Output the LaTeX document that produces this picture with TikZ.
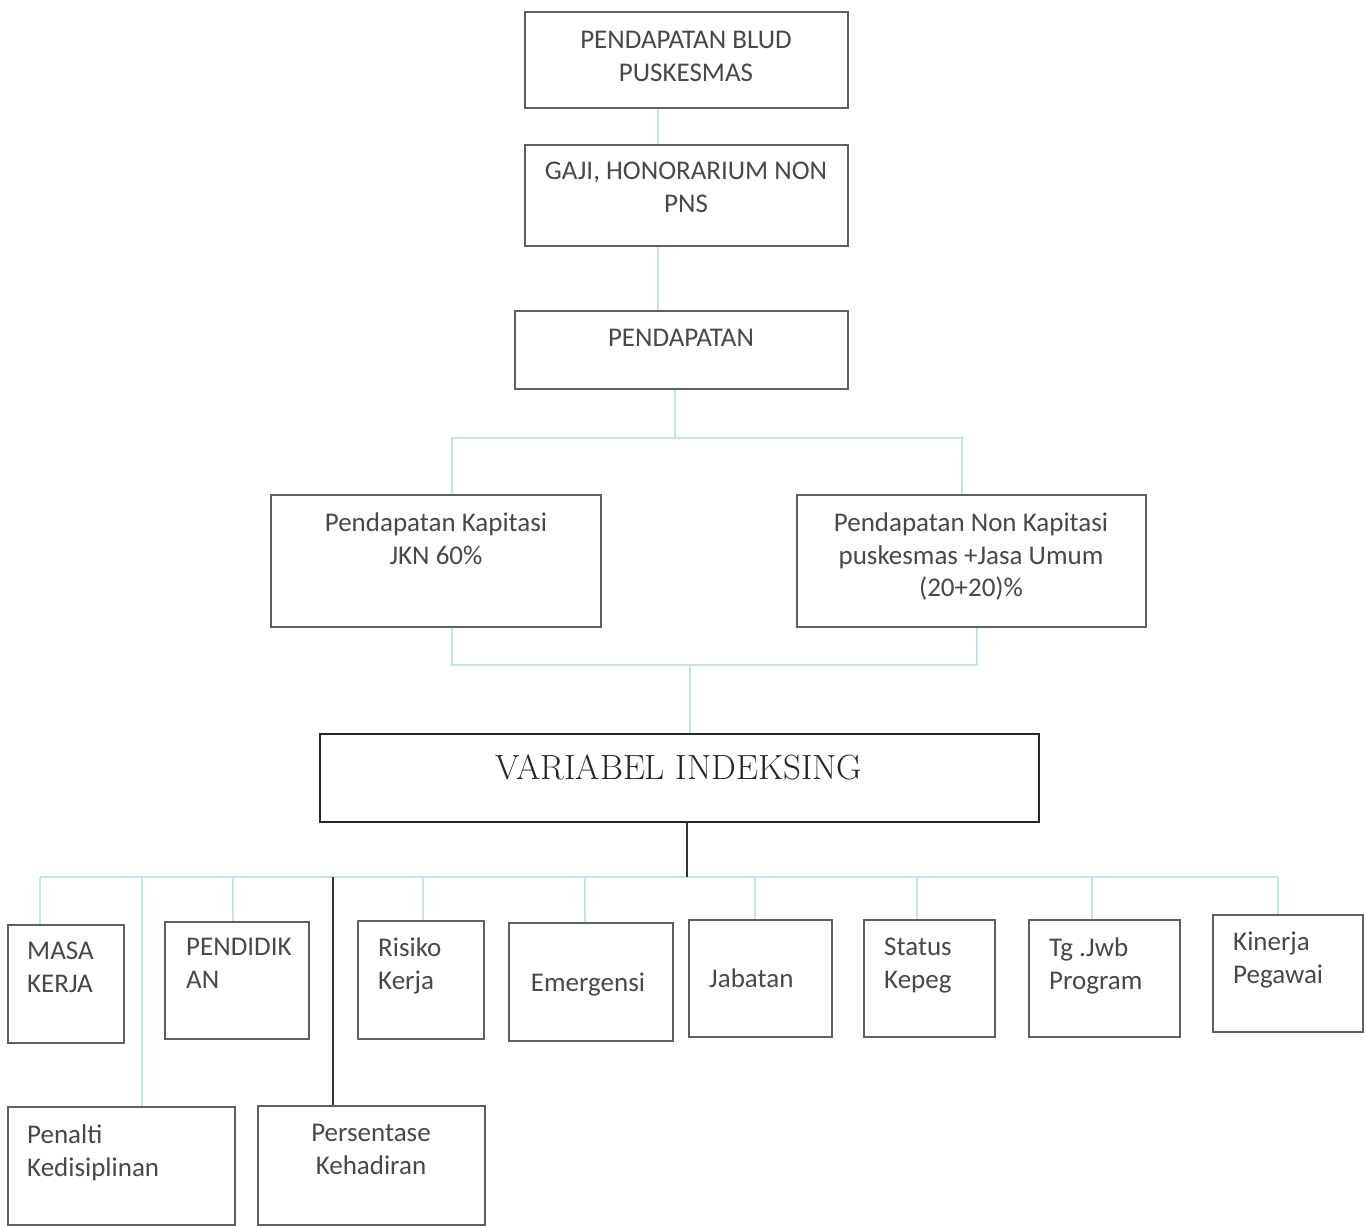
\documentclass[tikz,border=0pt]{standalone}
\usepackage{fontspec}
\setmainfont{Carlito}
\newfontfamily\serifvar{Latin Modern Roman}
\usetikzlibrary{fit}
\definecolor{conn}{RGB}{196,228,234}
\definecolor{bord}{RGB}{95,95,95}
\definecolor{ink}{RGB}{72,72,72}
\begin{document}
\begin{tikzpicture}[x=1pt,y=-1pt,
  bx/.style={draw=bord,line width=1.3pt,inner sep=0pt},
  bigbx/.style={draw=black!85,line width=2pt,inner sep=0pt},
  txt/.style={text=ink,font=\fontsize{27}{32.5}\selectfont,inner sep=0pt,anchor=north},
  ltxt/.style={txt,anchor=north west,align=left},
  ctxt/.style={txt,align=center},
  cn/.style={draw=conn,line width=1.3pt},
  blk/.style={draw=black!80,line width=1.3pt}]
\useasboundingbox[fill=white] (0,0) rectangle (1366,1226);

% top chain
\node[bx,fit={(525,12) (848,108)}] (n1) {};
\node[ctxt] (t1) at (686,31) {PENDAPATAN BLUD\\PUSKESMAS};
\node[bx,fit={(525,145) (848,246)}] (n2) {};
\node[ctxt] (t2) at (686,162) {GAJI, HONORARIUM NON\\PNS};
\node[bx,fit={(515,311) (848,389)}] (n3) {};
\node[ctxt] (t3) at (681,329) {PENDAPATAN};
\node[bx,fit={(271,495) (601,627)}] (n4) {};
\node[ctxt] (t4) at (436,513) {Pendapatan Kapitasi\\JKN 60\%};
\node[bx,fit={(797,495) (1146,627)}] (n5) {};
\node[ctxt] (t5) at (971,513) {Pendapatan Non Kapitasi\\puskesmas +Jasa Umum\\(20+20)\%};
\node[bigbx,fit={(320,734) (1039,822)}] (n6) {};
\node[text=black!85,font=\serifvar\fontsize{35}{40}\selectfont,inner sep=0pt] (t6) at (679,767) {VARIABEL INDEKSING};

% bottom boxes
\node[bx,fit={(8,925) (124,1043)}] (m1) {};
\node[ltxt] (s1) at (27,942) {MASA\\KERJA};
\node[bx,fit={(165,922) (309,1039)}] (m2) {};
\node[ltxt] (s2) at (186,938) {PENDIDIK\\AN};
\node[bx,fit={(358,921) (484,1039)}] (m3) {};
\node[ltxt] (s3) at (378,938) {Risiko\\Kerja};
\node[bx,fit={(509,923) (673,1041)}] (m4) {};
\node[txt] (s4) at (588,973) {Emergensi};
\node[bx,fit={(689,920) (832,1037)}] (m5) {};
\node[ltxt] (s5) at (709,969) {Jabatan};
\node[bx,fit={(864,920) (995,1037)}] (m6) {};
\node[ltxt] (s6) at (884,938) {Status\\Kepeg};
\node[bx,fit={(1029,920) (1180,1037)}] (m7) {};
\node[ltxt] (s7) at (1049,938) {Tg .Jwb\\Program};
\node[bx,fit={(1213,915) (1363,1032)}] (m8) {};
\node[ltxt] (s8) at (1233,932) {Kinerja\\Pegawai};
\node[bx,fit={(8,1107) (235,1225)}] (m9) {};
\node[ltxt] (s9) at (27,1125) {Penalti\\Kedisiplinan};
\node[bx,fit={(258,1106) (485,1225)}] (m10) {};
\node[ctxt] (s10) at (371,1124) {Persentase\\Kehadiran};

% junction coordinates
\coordinate (c12) at (658,0);
\coordinate (j3) at (675,438);
\coordinate (a4) at (452,438);
\coordinate (a5) at (962,438);
\coordinate (b4) at (452,665);
\coordinate (b5) at (977,665);
\coordinate (j6) at (690,665);
\coordinate (j7) at (687,877);
\coordinate (d1) at (40,877);
\coordinate (d9) at (142,877);
\coordinate (d2) at (233,877);
\coordinate (d10) at (333,877);
\coordinate (d3) at (423,877);
\coordinate (d4) at (585,877);
\coordinate (d5) at (755,877);
\coordinate (d6) at (917,877);
\coordinate (d7) at (1092,877);
\coordinate (d8) at (1278,877);

% connectors
\draw[cn] (n1.south -| c12) -- (n2.north -| c12);
\draw[cn] (n2.south -| c12) -- (n3.north -| c12);
\draw[cn] (n3.south -| j3) -- (j3);
\draw[cn] (n4.north -| a4) -- (a4) -- (a5) -- (n5.north -| a5);
\draw[cn] (n4.south -| b4) -- (b4) -- (b5) -- (n5.south -| b5);
\draw[cn] (j6) -- (n6.north -| j6);
\draw[cn] (d1) -- (d8);
\draw[cn] (d1) -- (m1.north -| d1);
\draw[cn] (d9) -- (m9.north -| d9);
\draw[cn] (d2) -- (m2.north -| d2);
\draw[cn] (d3) -- (m3.north -| d3);
\draw[cn] (d4) -- (m4.north -| d4);
\draw[cn] (d5) -- (m5.north -| d5);
\draw[cn] (d6) -- (m6.north -| d6);
\draw[cn] (d7) -- (m7.north -| d7);
\draw[cn] (d8) -- (m8.north -| d8);
\draw[blk] (n6.south -| j7) -- (j7);
\draw[blk] (d10) -- (m10.north -| d10);
\end{tikzpicture}
\end{document}
